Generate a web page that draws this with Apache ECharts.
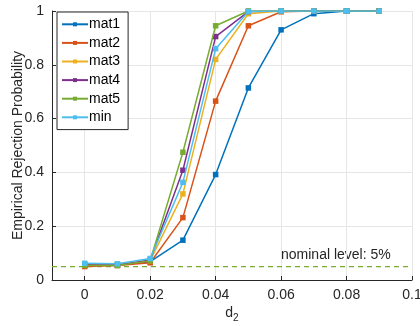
<!DOCTYPE html>
<html><head><meta charset="utf-8">
<script src="https://cdn.jsdelivr.net/npm/echarts@6/dist/echarts.min.js"></script>
<style>html,body{margin:0;padding:0;background:#fff}#c{width:420px;height:326px}</style>
</head><body><div id="c"></div>
<script>
const xVals = [0, 0.01, 0.02, 0.03, 0.04, 0.05, 0.06, 0.07, 0.08, 0.09];
const seriesNames = ['mat1', 'mat2', 'mat3', 'mat4', 'mat5', 'min'];
const mat1 = [0.055, 0.056, 0.068, 0.148, 0.392, 0.714, 0.93, 0.99, 1.0, 1.0];
const mat2 = [0.05, 0.054, 0.064, 0.232, 0.665, 0.945, 0.997, 1.0, 1.0, 1.0];
const mat3 = [0.058, 0.058, 0.072, 0.32, 0.82, 0.99, 1.0, 1.0, 1.0, 1.0];
const mat4 = [0.056, 0.056, 0.074, 0.408, 0.905, 0.998, 1.0, 1.0, 1.0, 1.0];
const mat5 = [0.054, 0.054, 0.072, 0.475, 0.945, 1.0, 1.0, 1.0, 1.0, 1.0];
const minS = [0.062, 0.06, 0.08, 0.363, 0.86, 0.998, 1.0, 1.0, 1.0, 1.0];
const xTicks = [0, 0.02, 0.04, 0.06, 0.08, 0.1];
const xRange = [-0.01, 0.1];
const nominal = 0.05;
const nominalLabel = 'nominal level: 5%';
const colors = ['#0072BD', '#D95319', '#EDB120', '#7E2F8E', '#77AC30', '#4DBEEE'];
const allData = [mat1, mat2, mat3, mat4, mat5, minS];
const FONT = 'Liberation Sans, Arial, sans-serif';

const chart = echarts.init(document.getElementById('c'), null, {renderer: 'canvas'});
const series = [{
  name: 'nominal', type: 'line', silent: true, symbol: 'none',
  data: xRange.map(x => [x, nominal]),
  lineStyle: {type: [5, 4], color: '#77AC30', width: 1.2},
  itemStyle: {color: '#77AC30'},
  z: 2
}];
allData.forEach((d, i) => series.push({
  name: seriesNames[i], type: 'line',
  data: xVals.map((x, j) => [x, d[j]]),
  symbol: 'rect', symbolSize: 5.5,
  lineStyle: {width: 1.5, color: colors[i]},
  itemStyle: {color: colors[i]},
  z: 3 + i
}));
chart.setOption({
  animation: false,
  grid: {left: 52, right: 8, top: 11, bottom: 46, containLabel: false, outerBoundsMode: 'none'},
  legend: {
    data: seriesNames, orient: 'vertical', left: 57, top: 12,
    itemWidth: 26, itemHeight: 5, itemGap: 2,
    padding: [4, 8, 4, 4],
    backgroundColor: '#fff', borderColor: '#262626', borderWidth: 1,
    textStyle: {fontSize: 14, color: '#000', fontFamily: FONT, padding: [0, 0, 0, -4], lineHeight: 16.6}
  },
  xAxis: {
    type: 'value', min: xRange[0], max: xRange[1],
    name: 'd{s|2}', nameLocation: 'middle', nameGap: 24, nameMoveOverlap: false,
    nameTextStyle: {fontSize: 14, color: '#262626', fontFamily: FONT,
      rich: {s: {fontSize: 10, verticalAlign: 'bottom', padding: [9, 0, 0, 0], color: '#262626', fontFamily: FONT}}},
    axisLine: {show: true, onZero: false, lineStyle: {color: '#262626', width: 1}},
    axisTick: {show: true, inside: true, length: 4, lineStyle: {color: '#262626'}, customValues: xTicks},
    axisLabel: {fontSize: 14, color: '#262626', margin: 8, fontFamily: FONT,
      customValues: xTicks,
      formatter: v => (Math.round(v * 100) / 100).toString()},
    splitLine: {show: true, lineStyle: {color: '#e6e6e6', width: 1}}
  },
  yAxis: {
    type: 'value', min: 0, max: 1, interval: 0.2,
    name: 'Empirical Rejection Probability', nameLocation: 'middle', nameGap: 27, nameMoveOverlap: false,
    nameTextStyle: {fontSize: 14, color: '#262626', fontFamily: FONT},
    axisLine: {show: true, onZero: false, lineStyle: {color: '#262626', width: 1}},
    axisTick: {show: true, inside: true, length: 4, lineStyle: {color: '#262626'}},
    axisLabel: {fontSize: 14, color: '#262626', margin: 8, fontFamily: FONT,
      formatter: v => (Math.round(v * 10) / 10).toString()},
    splitLine: {show: true, lineStyle: {color: '#e6e6e6', width: 1}}
  },
  graphic: [{
    type: 'text', left: 281, top: 248,
    style: {text: nominalLabel, fontSize: 14, fill: '#262626', fontFamily: FONT}
  }],
  series: series
});
</script></body></html>
